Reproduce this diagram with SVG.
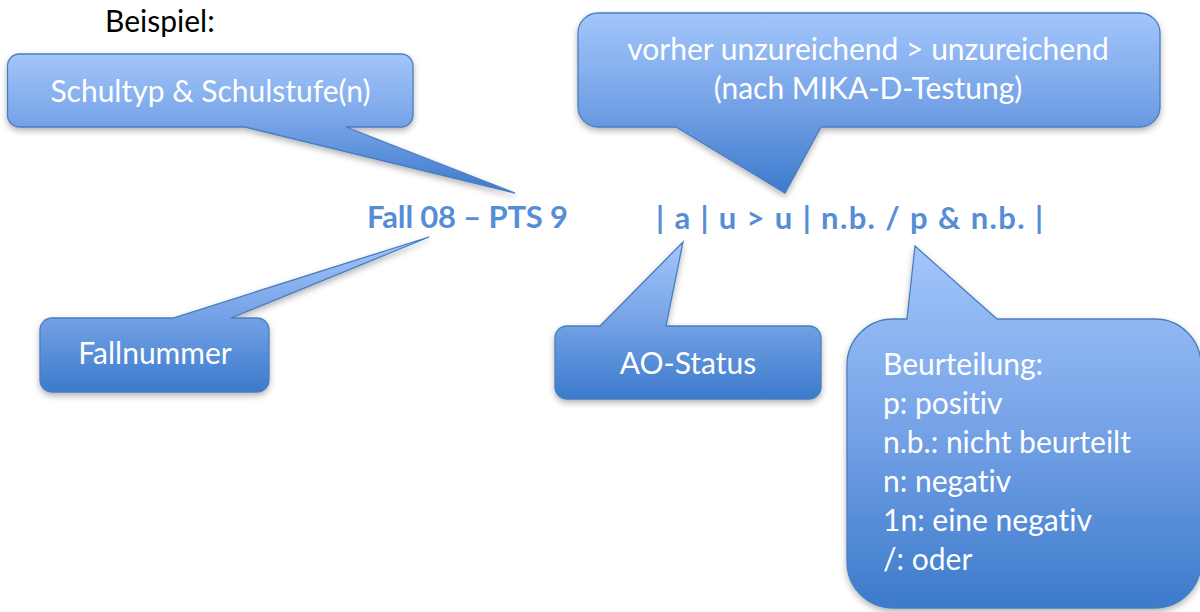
<svg xmlns="http://www.w3.org/2000/svg" width="1200" height="612" viewBox="0 0 1200 612">
<style>
  .bubble { fill: url(#blueGrad); stroke: #4A7EBF; stroke-width: 1.3; filter: url(#shadow); }
  text { font-variant-ligatures: none; }
  .wt { font-family: Lato, "Open Sans", sans-serif; font-size: 30px; fill: #FFFFFF; }
  .bt { font-family: Lato, "Open Sans", sans-serif; font-size: 31px; font-weight: bold; fill: #558ED5; }
  .kt { font-family: Lato, "Open Sans", sans-serif; font-size: 30px; fill: #000000; }
</style>
<defs>
  <linearGradient id="blueGrad" x1="0" y1="0" x2="0" y2="1">
    <stop offset="0" stop-color="#A3C6FB"/>
    <stop offset="0.5" stop-color="#76A3E7"/>
    <stop offset="1" stop-color="#3C7ACB"/>
  </linearGradient>
  <filter id="shadow" x="-10%" y="-10%" width="120%" height="130%">
    <feDropShadow dx="0" dy="3" stdDeviation="3" flood-color="#000000" flood-opacity="0.3"/>
  </filter>
</defs>
<rect width="1200" height="612" fill="#FFFFFF"/>

<text id="beispiel" class="kt" x="105" y="32">Beispiel:</text>

<g id="callout-schultyp">
  <path class="bubble" d="M19.5,54 H401 A12,12 0 0 1 413,66 V115 A12,12 0 0 1 401,127 H346 L515,193 L245,127 H19.5 A12,12 0 0 1 7.5,115 V66 A12,12 0 0 1 19.5,54 Z"/>
  <text class="wt" x="210.5" y="102" text-anchor="middle">Schultyp &amp; Schulstufe(n)</text>
</g>

<g id="callout-mika">
  <path class="bubble" d="M598,13 H1140 A20,20 0 0 1 1160,33 V107 A20,20 0 0 1 1140,127 H821 L785,193 L676,127 H598 A20,20 0 0 1 578,107 V33 A20,20 0 0 1 598,13 Z"/>
  <text class="wt" x="868" y="60" text-anchor="middle">vorher unzureichend &gt; unzureichend</text>
  <text class="wt" x="868" y="99" text-anchor="middle">(nach MIKA-D-Testung)</text>
</g>

<g id="code-line">
  <text class="bt" x="367" y="228" textLength="201" lengthAdjust="spacing">Fall 08 – PTS 9</text>
  <text class="bt" x="656" y="229" textLength="387" lengthAdjust="spacing">| a | u &gt; u | n.b. / p &amp; n.b. |</text>
</g>

<g id="callout-fallnummer">
  <path class="bubble" d="M52,318 H173 L429,237 L231,318 H257 A12,12 0 0 1 269,330 V380 A12,12 0 0 1 257,392 H52 A12,12 0 0 1 40,380 V330 A12,12 0 0 1 52,318 Z"/>
  <text class="wt" x="155" y="364" text-anchor="middle">Fallnummer</text>
</g>

<g id="callout-ao">
  <path class="bubble" d="M567,326 H600 L683,242 L666,326 H809 A12,12 0 0 1 821,338 V387 A12,12 0 0 1 809,399 H567 A12,12 0 0 1 555,387 V338 A12,12 0 0 1 567,326 Z"/>
  <text class="wt" x="688" y="374" text-anchor="middle">AO-Status</text>
</g>

<g id="callout-beurteilung">
  <path class="bubble" d="M893,319 H907 L915,246 L997,319 H1155 A46,46 0 0 1 1201,365 V562 A46,46 0 0 1 1155,608 H893 A46,46 0 0 1 847,562 V365 A46,46 0 0 1 893,319 Z"/>
  <text class="wt" x="883" y="375">Beurteilung:</text>
  <text class="wt" x="883" y="414">p: positiv</text>
  <text class="wt" x="883" y="453">n.b.: nicht beurteilt</text>
  <text class="wt" x="883" y="492">n: negativ</text>
  <text class="wt" x="883" y="531">1n: eine negativ</text>
  <text class="wt" x="883" y="570">/: oder</text>
</g>
</svg>
